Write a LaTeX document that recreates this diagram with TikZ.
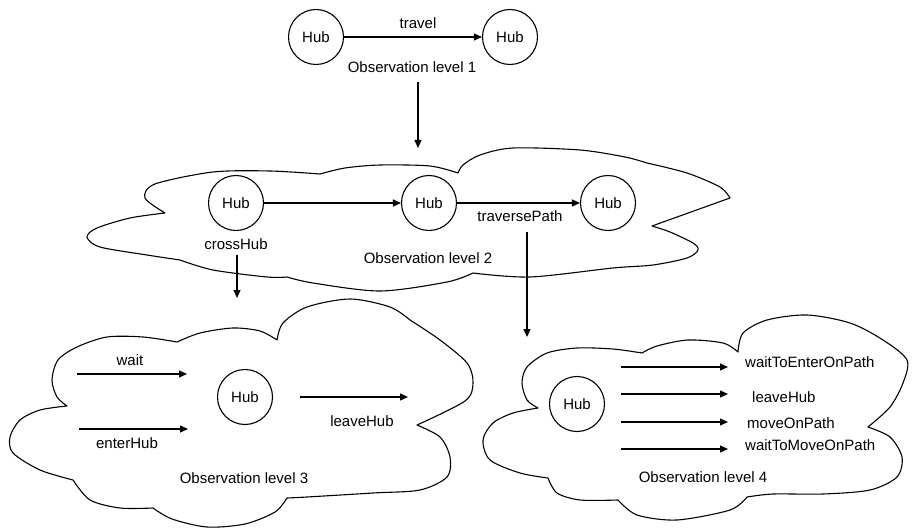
\documentclass[tikz,border=0pt]{standalone}
\usepackage{fontspec}
\setmainfont{Liberation Sans}
\usetikzlibrary{arrows.meta}
\begin{document}
\begin{tikzpicture}[x=1pt,y=-1pt,
  every node/.style={font=\fontsize{15}{18}\selectfont},
  hub/.style={draw,circle,line width=1.1pt,minimum size=55pt,inner sep=0pt},
  lbl/.style={inner sep=0pt},
  arr/.style={line width=1.2pt,-{Triangle[length=8pt,width=7pt]}},
  cloud/.style={line width=1.1pt,line join=round}]
\useasboundingbox (0,0) rectangle (912,529);

% ---------- clouds ----------
\draw[cloud] plot[smooth] coordinates {(165,213) (145,198) (155,184) (213,172) (270,171) (320,174)}
 -- plot[smooth] coordinates {(320,174) (345,168) (380,165) (430,166) (458,173)}
 -- plot[smooth] coordinates {(458,173) (463,165) (480,155) (513,148) (580,150) (625,157) (647,163)}
 -- plot[smooth] coordinates {(647,163) (687,173) (720,187) (730,198)}
 -- (652,226)
 -- plot[smooth] coordinates {(652,226) (670,232) (693,243) (698,250) (687,258) (653,265) (613,268) (530,277) (473,273)}
 -- plot[smooth] coordinates {(473,273) (447,282) (380,291) (313,283) (287,277)}
 -- plot[smooth] coordinates {(287,277) (267,277) (213,270) (180,260)}
 -- plot[smooth] coordinates {(180,260) (147,255) (100,247) (87,237) (97,228) (130,218) (165,213)}
 -- cycle;

\draw[cloud] plot[smooth] coordinates {(67,406) (57,397) (52,380) (58,360) (77,347) (107,337) (143,337) (177,342)}
 -- plot[smooth] coordinates {(177,342) (200,333) (233,328) (260,331) (277,340)}
 -- plot[smooth] coordinates {(277,340) (283,323) (307,307) (350,299) (390,307) (410,320)}
 -- plot[smooth] coordinates {(410,320) (440,340) (467,363) (473,383) (465,401) (417,425)}
 -- plot[smooth] coordinates {(417,425) (440,437) (450,457) (447,477) (420,490) (373,493) (307,497) (287,498)}
 -- plot[smooth] coordinates {(287,498) (275,512) (245,524) (207,527) (172,519) (153,508)}
 -- plot[smooth] coordinates {(153,508) (120,508) (90,500) (73,480)}
 -- plot[smooth] coordinates {(73,480) (40,470) (13,453) (10,437) (20,420) (40,410) (67,406)}
 -- cycle;

\draw[cloud] plot[smooth] coordinates {(538,408) (527,400) (522,383) (527,367) (547,353) (577,348) (613,349) (642,353)}
 -- plot[smooth] coordinates {(642,353) (657,346) (688,340) (723,343) (738,352)}
 -- plot[smooth] coordinates {(738,352) (743,333) (767,320) (807,315) (850,323) (883,340) (907,360) (903,383) (890,407) (868,427)}
 -- plot[smooth] coordinates {(868,427) (890,437) (902,457) (897,477) (870,490) (823,494) (773,494) (747,497)}
 -- plot[smooth] coordinates {(747,497) (730,510) (677,520) (637,515) (618,500)}
 -- plot[smooth] coordinates {(618,500) (580,500) (557,493) (548,478)}
 -- plot[smooth] coordinates {(548,478) (520,473) (490,460) (483,440) (493,423) (513,413) (538,408)}
 -- cycle;

% ---------- level 1 ----------
\node[hub] (h1a) at (316,37) {Hub};
\node[hub] (h1b) at (510,37) {Hub};
\node[lbl] (travel) at (418,23) {travel};
\node[lbl] (obs1) at (412,67) {Observation level 1};
\draw[arr] (h1a) -- (h1b);
\coordinate (d1s) at (418,82);
\coordinate (d1e) at (418,148);
\draw[arr] (d1s) -- (d1e);

% ---------- level 2 ----------
\node[hub] (h2a) at (236,203) {Hub};
\node[hub] (h2b) at (429,203) {Hub};
\node[hub] (h2c) at (608,203) {Hub};
\draw[arr] (h2a) -- (h2b);
\draw[arr] (h2b) -- (h2c);
\node[lbl] (trav) at (520,216) {traversePath};
\node[lbl] (cross) at (236,244) {crossHub};
\node[lbl] (obs2) at (428,258) {Observation level 2};
\coordinate (c2s) at (237,255);
\coordinate (c2e) at (237,298);
\draw[arr] (c2s) -- (c2e);
\coordinate (t2s) at (527,232);
\coordinate (t2e) at (527,337);
\draw[arr] (t2s) -- (t2e);

% ---------- level 3 ----------
\node[hub] (h3) at (245,397) {Hub};
\coordinate (w3s) at (77,374);  \coordinate (w3e) at (187,374);
\coordinate (e3s) at (79,429);  \coordinate (e3e) at (188,429);
\coordinate (l3s) at (300,397); \coordinate (l3e) at (408,397);
\draw[arr] (w3s) -- (w3e);
\draw[arr] (e3s) -- (e3e);
\draw[arr] (l3s) -- (l3e);
\node[lbl] (wait3) at (130,360) {wait};
\node[lbl] (enter3) at (127,443) {enterHub};
\node[lbl] (leave3) at (362,421) {leaveHub};
\node[lbl] (obs3) at (244,478) {Observation level 3};

% ---------- level 4 ----------
\node[hub] (h4) at (577,404) {Hub};
\coordinate (a4s) at (621,367); \coordinate (a4e) at (728,367);
\coordinate (b4s) at (621,394); \coordinate (b4e) at (728,394);
\coordinate (c4s) at (621,422); \coordinate (c4e) at (728,422);
\coordinate (d4s) at (621,449); \coordinate (d4e) at (728,449);
\draw[arr] (a4s) -- (a4e);
\draw[arr] (b4s) -- (b4e);
\draw[arr] (c4s) -- (c4e);
\draw[arr] (d4s) -- (d4e);
\node[lbl,anchor=west] (wte) at (745,362) {waitToEnterOnPath};
\node[lbl,anchor=west] (lh4) at (752,397) {leaveHub};
\node[lbl,anchor=west] (mop) at (747,423) {moveOnPath};
\node[lbl,anchor=west] (wtm) at (745,445) {waitToMoveOnPath};
\node[lbl] (obs4) at (703,477) {Observation level 4};
\end{tikzpicture}
\end{document}
